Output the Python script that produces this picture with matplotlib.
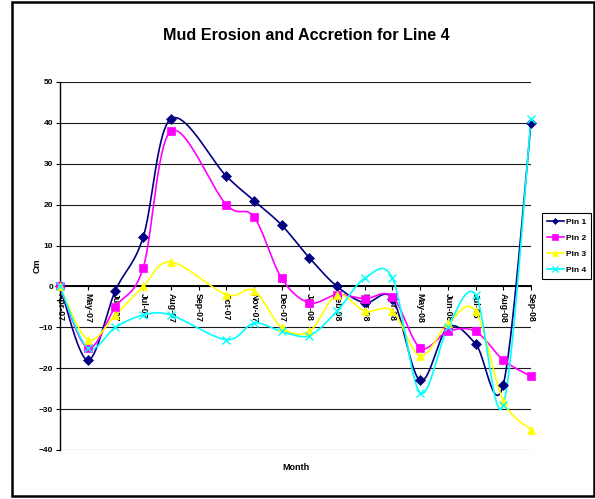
import numpy as np
import matplotlib
matplotlib.use("Agg")
import matplotlib.pyplot as plt
from matplotlib.lines import Line2D
from matplotlib.patches import Rectangle

plt.rcParams['font.family'] = ['Liberation Sans', 'DejaVu Sans']

months = ["Apr-07", "May-07", "Jun-07", "Jul-07", "Aug-07", "Sep-07", "Oct-07",
          "Nov-07", "Dec-07", "Jan-08", "Feb-08", "Mar-08", "Apr-08", "May-08",
          "Jun-08", "Jul-08", "Aug-08", "Sep-08"]
nan = np.nan
pin1 = [0, -18, -1, 12, 41, nan, 27, 21, 15, 7, 0, -4, -3, -23, -10, -14, -24, 40]
pin2 = [0, -15, -5, 4.5, 38, nan, 20, 17, 2, -4, -2, -3, -2.5, -15, -11, -11, -18, -22]
pin3 = [0, -13, -7, 0, 6, nan, -2, -1, -10, -11, -2, -6, -6, -17, -9, -6, -28, -35]
pin4 = [0, -15, -10, -7, -7, nan, -13, -9, -11, -12, -6, 2, 2, -26, -10, -2, -29, 41]
series_names = ["Pin 1", "Pin 2", "Pin 3", "Pin 4"]
colors = ["#000080", "#FF00FF", "#FFFF00", "#00FFFF"]
markers = ["D", "s", "^", "x"]
msizes = [5, 6, 6, 6]


def smooth(xs, ys, n=30):
    pts = [(x, y) for x, y in zip(xs, ys) if not np.isnan(y)]
    P = np.array(pts, dtype=float)
    out = [P[0]]
    t = np.linspace(0, 1, n)[1:, None]
    for i in range(len(P) - 1):
        p0 = P[i - 1] if i > 0 else P[i]
        p1, p2 = P[i], P[i + 1]
        p3 = P[i + 2] if i + 2 < len(P) else P[i + 1]
        c1 = p1 + (p2 - p0) / 6.0
        c2 = p2 - (p3 - p1) / 6.0
        seg = ((1 - t) ** 3) * p1 + 3 * ((1 - t) ** 2) * t * c1 + 3 * (1 - t) * t ** 2 * c2 + t ** 3 * p2
        out.extend(seg)
    out = np.array(out)
    return out[:, 0], out[:, 1]


W, H = 595, 499
fig = plt.figure(figsize=(W / 100, H / 100), dpi=100)
ax = fig.add_axes([60 / W, 1 - 450 / H, (531 - 60) / W, (450 - 82) / H])

x = np.arange(len(months))
for vals, c, m, ms in zip([pin1, pin2, pin3, pin4], colors, markers, msizes):
    sx, sy = smooth(x, vals)
    ax.plot(sx, sy, color=c, lw=1.2, zorder=3, solid_capstyle='round')
    v = np.array(vals, dtype=float)
    ax.plot(x, v, linestyle='none', marker=m, color=c, markersize=ms,
            markeredgewidth=1.0 if m == 'x' else 0.5, zorder=4, clip_on=False)

ax.set_xlim(0, len(months) - 1)
ax.set_ylim(-40, 50)
ax.set_yticks(np.arange(-40, 51, 10))
ax.yaxis.grid(True, color='#1a1a1a', lw=0.8)
ax.set_axisbelow(True)

ax.spines['top'].set_visible(False)
ax.spines['right'].set_visible(False)
ax.spines['bottom'].set_position(('data', 0))
ax.spines['bottom'].set_linewidth(1.4)
ax.spines['bottom'].set_zorder(2.5)
ax.spines['left'].set_linewidth(1.0)

ax.set_xticks(x)
ax.set_xticklabels(months, rotation=270, fontsize=6.3, fontweight='bold')
ax.tick_params(axis='x', direction='out', length=3, width=0.8, pad=2)
ax.tick_params(axis='y', direction='out', length=3, width=0.8, pad=2,
               labelsize=6)
for lab in ax.get_yticklabels():
    lab.set_fontweight('bold')

fig.text(306 / W, 1 - 35 / H, "Mud Erosion and Accretion for Line 4",
         ha='center', va='center', fontsize=11.6, fontweight='bold')
fig.text(37 / W, 1 - 266 / H, "Cm", rotation=90, ha='center', va='center',
         fontsize=6.5, fontweight='bold')
fig.text(296 / W, 1 - 468 / H, "Month", ha='center', va='center',
         fontsize=6.5, fontweight='bold')

handles = [Line2D([], [], color=c, marker=m, markersize=ms - 2, lw=1.2,
                  markeredgewidth=1.0 if m == 'x' else 0.5)
           for c, m, ms in zip(colors, markers, msizes)]
leg = ax.legend(handles, series_names, loc='upper left',
                bbox_to_anchor=(542 / W, 1 - 213 / H), bbox_transform=fig.transFigure,
                prop={'size': 6, 'weight': 'bold'}, frameon=True, fancybox=False,
                edgecolor='black', framealpha=1, borderpad=0.6, labelspacing=1.0,
                handlelength=2.0, handletextpad=0.25, borderaxespad=0)
leg.get_frame().set_linewidth(0.8)

fig.patches.append(Rectangle((12 / W, 3 / H), (594 - 12) / W, (497 - 3) / H,
                             transform=fig.transFigure, fill=False,
                             edgecolor='black', lw=1.8))

fig.savefig("out.png", dpi=100)
